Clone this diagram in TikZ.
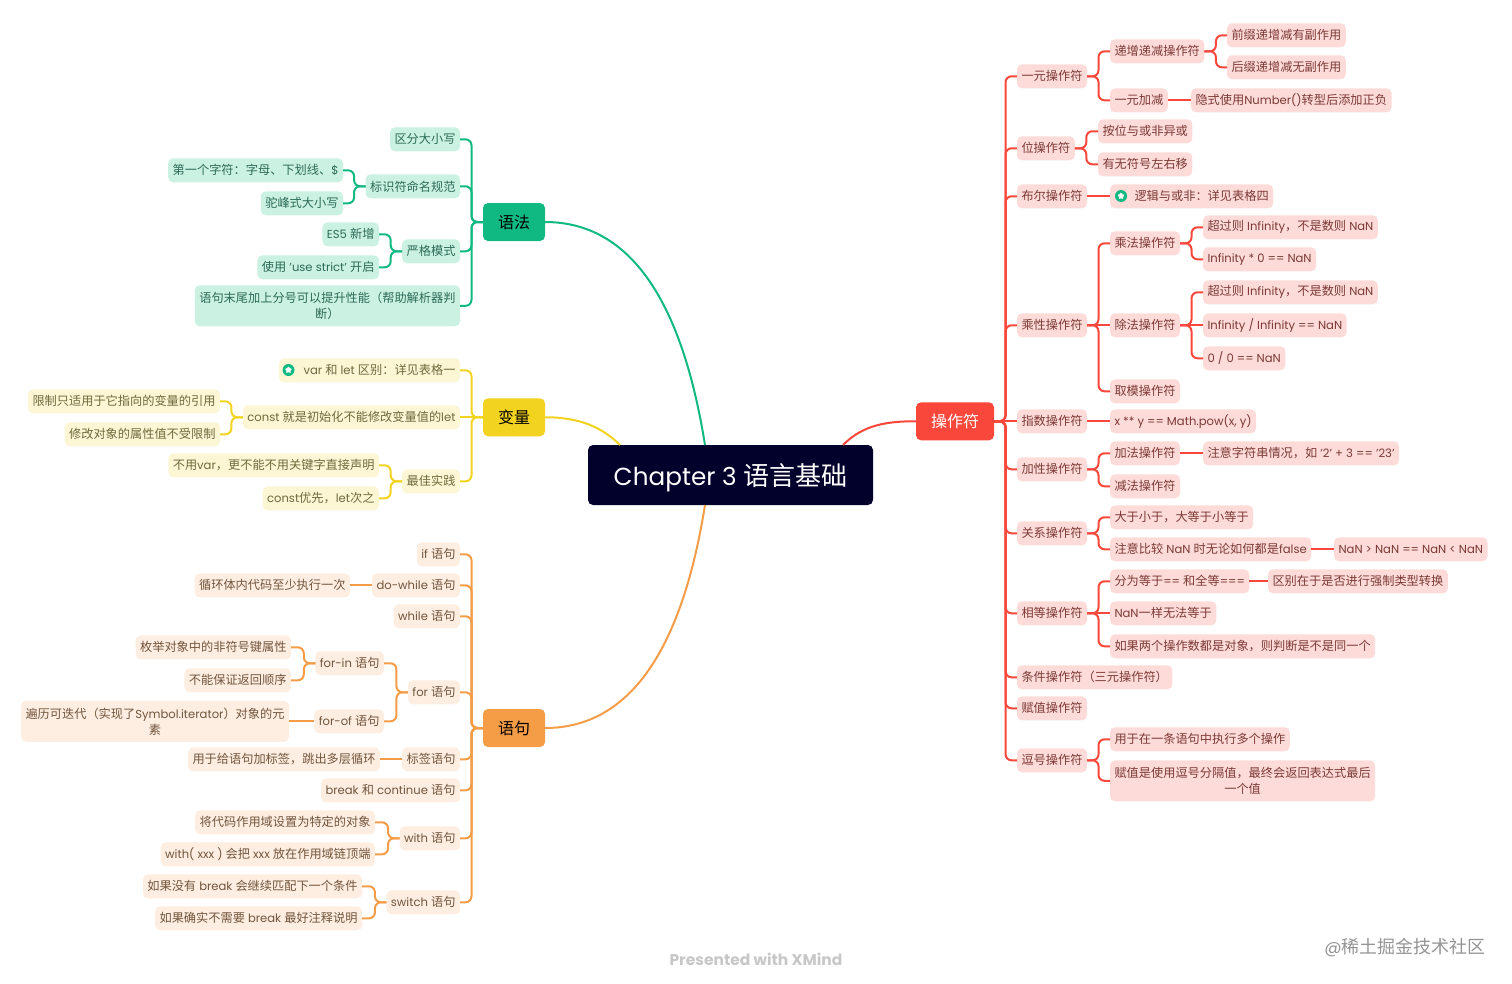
\documentclass[tikz,border=0pt]{standalone}
\usepackage{fontspec}
\usetikzlibrary{shapes.geometric}
\setmainfont[Scale=0.95]{Poppins}
\newfontfamily\cjk{Noto Sans CJK SC}
\newXeTeXintercharclass\cjkclass
\newcount\cjkcode
\cjkcode="3000 \loop \XeTeXcharclass\cjkcode=\cjkclass \advance\cjkcode by 1 \ifnum\cjkcode<"3040 \repeat
\cjkcode="4E00 \loop \XeTeXcharclass\cjkcode=\cjkclass \advance\cjkcode by 1 \ifnum\cjkcode<"A000 \repeat
\cjkcode="FF00 \loop \XeTeXcharclass\cjkcode=\cjkclass \advance\cjkcode by 1 \ifnum\cjkcode<"FFF0 \repeat
\XeTeXinterchartoks 0 \cjkclass={\begingroup\cjk}
\XeTeXinterchartoks 4095 \cjkclass={\begingroup\cjk}
\XeTeXinterchartoks \cjkclass 0={\endgroup}
\XeTeXinterchartoks \cjkclass 4095={\endgroup}
\XeTeXinterchartokenstate=1
\definecolor{rootblue}{HTML}{02012B}
\definecolor{opred}{HTML}{F9473B}
\definecolor{opfill}{HTML}{FDDBD9}
\definecolor{optext}{HTML}{7C3A36}
\definecolor{syngreen}{HTML}{10B981}
\definecolor{synfill}{HTML}{CBF1E3}
\definecolor{syntext}{HTML}{2C6B57}
\definecolor{varyellow}{HTML}{F2D31F}
\definecolor{varfill}{HTML}{FCF6D5}
\definecolor{vartext}{HTML}{6E6A3C}
\definecolor{stmorange}{HTML}{F59C47}
\definecolor{stmfill}{HTML}{FDEEE1}
\definecolor{stmtext}{HTML}{72553D}
\tikzset{
  box/.style={rounded corners=5pt, inner xsep=4.5pt, inner ysep=0pt, minimum height=24pt, outer sep=0pt,
    align=center, yshift=-0.3pt, font=\fontsize{12.2}{16}\selectfont},
  topic/.style={rounded corners=5pt, minimum width=62pt, minimum height=38pt, outer sep=0pt,
    font=\fontsize{16}{18}\selectfont},
  opbox/.style={box, fill=opfill, text=optext, anchor=west},
  synbox/.style={box, fill=synfill, text=syntext, anchor=east},
  varbox/.style={box, fill=varfill, text=vartext, anchor=east},
  stmbox/.style={box, fill=stmfill, text=stmtext, anchor=east},
  rlink/.style={line width=2pt, rounded corners=6pt, to path={-- ++(11.5,0) |- (\tikztotarget)}},
  llink/.style={line width=2pt, rounded corners=6pt, to path={-- ++(-11.5,0) |- (\tikztotarget)}},
  oplink/.style={rlink, draw=opred},
  synlink/.style={llink, draw=syngreen},
  varlink/.style={llink, draw=varyellow},
  stmlink/.style={llink, draw=stmorange},
  opline/.style={line width=2pt, draw=opred},
  varline/.style={line width=2pt, draw=varyellow},
  stmline/.style={line width=2pt, draw=stmorange},
  staricon/.style={circle, fill=syngreen, minimum size=12pt, inner sep=0pt},
  starmark/.style={star, star points=5, fill=white, minimum size=7pt, inner sep=0pt}
}
\begin{document}
\begin{tikzpicture}[x=1pt, y=-1pt]
\useasboundingbox (0,0) rectangle (1512,983);

\node[fill=rootblue, text=white, rounded corners=5pt, minimum width=285pt, minimum height=60pt, outer sep=0pt, text height=24pt, text depth=4pt, font=\fontsize{26}{30}\selectfont] (root) at (730.5,475) {Chapter 3 语言基础};
\node[topic, fill=opred, text=white, minimum width=78pt] (op) at (955,421.3) {操作符};
\node[topic, fill=syngreen, text=black] (syn) at (514,222) {语法};
\node[topic, fill=varyellow, text=black] (var) at (514,417.3) {变量};
\node[topic, fill=stmorange, text=black] (stm) at (514,728) {语句};

\draw[line width=2pt, opred] (op.west) .. controls (880,421) and (860,428) .. ([xshift=112.5pt]root.north);
\draw[line width=2pt, syngreen] (syn.east) .. controls (640,222) and (685,320) .. ([xshift=-25.5pt]root.north);
\draw[line width=2pt, varyellow] (var.east) .. controls (580,417) and (603,428) .. ([xshift=-110.5pt]root.north);
\draw[line width=2pt, stmorange] (stm.east) .. controls (640,728) and (685,630) .. ([xshift=-25.5pt]root.south);

\node[opbox] (unary) at (1017,76) {一元操作符};
\node[opbox] (bitop) at (1017,148) {位操作符};
\node[opbox] (boolop) at (1017,196) {布尔操作符};
\node[opbox] (mulop) at (1017,325) {乘性操作符};
\node[opbox] (expop) at (1017,421) {指数操作符};
\node[opbox] (addop) at (1017,469) {加性操作符};
\node[opbox] (relop) at (1017,533) {关系操作符};
\node[opbox] (eqop) at (1017,613) {相等操作符};
\node[opbox] (condop) at (1017,677) {条件操作符（三元操作符）};
\node[opbox] (assignop) at (1017,708) {赋值操作符};
\node[opbox] (commaop) at (1017,760) {逗号操作符};
\node[opbox] (incdec) at (1110,51) {递增递减操作符};
\node[opbox] (unaryadd) at (1110,100) {一元加减};
\node[opbox] (prefix) at (1227,35) {前缀递增减有副作用};
\node[opbox] (postfix) at (1227,67) {后缀递增减无副作用};
\node[opbox] (tonumber) at (1191,100) {隐式使用Number()转型后添加正负};
\node[opbox] (bitand) at (1098,131) {按位与或非异或};
\node[opbox] (shift) at (1098,164) {有无符号左右移};
\node[opbox] (logic) at (1110,196) {\hspace{20pt}逻辑与或非：详见表格四};
\node[staricon] (logicicon) at (1121,196) {};
\node[starmark] (logicstar) at (logicicon) {};
\node[opbox] (mul) at (1110,243) {乘法操作符};
\node[opbox] (div) at (1110,325) {除法操作符};
\node[opbox] (mod) at (1110,391) {取模操作符};
\node[opbox] (mulover) at (1203,227) {超过则 Infinity，不是数则 NaN};
\node[opbox] (mulzero) at (1203,259) {Infinity * 0 == NaN};
\node[opbox] (divover) at (1203,292) {超过则 Infinity，不是数则 NaN};
\node[opbox] (divinf) at (1203,325) {Infinity / Infinity == NaN};
\node[opbox] (divzero) at (1203,358) {0 / 0 == NaN};
\node[opbox] (pow) at (1110,421) {x ** y == Math.pow(x, y)};
\node[opbox] (plus) at (1110,453) {加法操作符};
\node[opbox] (minus) at (1110,486) {减法操作符};
\node[opbox] (strplus) at (1203,453) {注意字符串情况，如 '2' + 3 == '23'};
\node[opbox] (cmp) at (1110,517) {大于小于，大等于小等于};
\node[opbox] (cmpnan) at (1110,549) {注意比较 NaN 时无论如何都是false};
\node[opbox] (nanres) at (1334,549) {NaN > NaN == NaN < NaN};
\node[opbox] (eqkind) at (1110,581) {分为等于== 和全等===};
\node[opbox] (eqdiff) at (1268,581) {区别在于是否进行强制类型转换};
\node[opbox] (eqnan) at (1110,613) {NaN一样无法等于};
\node[opbox] (eqobj) at (1110,646) {如果两个操作数都是对象，则判断是不是同一个};
\node[opbox] (commause) at (1110,739) {用于在一条语句中执行多个操作};
\node[opbox, minimum height=41pt] (commaval) at (1110,780.5) {赋值是使用逗号分隔值，最终会返回表达式最后\\一个值};

\draw[oplink] (op.east) to (unary.west);
\draw[oplink] (op.east) to (bitop.west);
\draw[oplink] (op.east) to (boolop.west);
\draw[oplink] (op.east) to (mulop.west);
\draw[opline] (op.east) -- (expop.west);
\draw[oplink] (op.east) to (addop.west);
\draw[oplink] (op.east) to (relop.west);
\draw[oplink] (op.east) to (eqop.west);
\draw[oplink] (op.east) to (condop.west);
\draw[oplink] (op.east) to (assignop.west);
\draw[oplink] (op.east) to (commaop.west);
\draw[oplink] (unary.east) to (incdec.west);
\draw[oplink] (unary.east) to (unaryadd.west);
\draw[oplink] (incdec.east) to (prefix.west);
\draw[oplink] (incdec.east) to (postfix.west);
\draw[opline] (unaryadd.east) -- (tonumber.west);
\draw[oplink] (bitop.east) to (bitand.west);
\draw[oplink] (bitop.east) to (shift.west);
\draw[opline] (boolop.east) -- (logic.west);
\draw[oplink] (mulop.east) to (mul.west);
\draw[opline] (mulop.east) -- (div.west);
\draw[oplink] (mulop.east) to (mod.west);
\draw[oplink] (mul.east) to (mulover.west);
\draw[oplink] (mul.east) to (mulzero.west);
\draw[oplink] (div.east) to (divover.west);
\draw[opline] (div.east) -- (divinf.west);
\draw[oplink] (div.east) to (divzero.west);
\draw[opline] (expop.east) -- (pow.west);
\draw[oplink] (addop.east) to (plus.west);
\draw[oplink] (addop.east) to (minus.west);
\draw[opline] (plus.east) -- (strplus.west);
\draw[oplink] (relop.east) to (cmp.west);
\draw[oplink] (relop.east) to (cmpnan.west);
\draw[opline] (cmpnan.east) -- (nanres.west);
\draw[oplink] (eqop.east) to (eqkind.west);
\draw[opline] (eqop.east) -- (eqnan.west);
\draw[oplink] (eqop.east) to (eqobj.west);
\draw[opline] (eqkind.east) -- (eqdiff.west);
\draw[oplink] (commaop.east) to (commause.west);
\draw[oplink] (commaop.east) to (commaval.west);

\node[synbox] (casecase) at (460,139) {区分大小写};
\node[synbox] (ident) at (460,186) {标识符命名规范};
\node[synbox] (strict) at (460,251) {严格模式};
\node[synbox, minimum height=41pt] (semi) at (460,305.5) {语句末尾加上分号可以提升性能（帮助解析器判\\断）};
\node[synbox] (firstch) at (343,170) {第一个字符：字母、下划线、\$};
\node[synbox] (camel) at (343,203) {驼峰式大小写};
\node[synbox] (esfive) at (379,234) {ES5 新增};
\node[synbox] (usestrict) at (379,267) {使用 'use strict' 开启};

\draw[synlink] (syn.west) to (casecase.east);
\draw[synlink] (syn.west) to (ident.east);
\draw[synlink] (syn.west) to (strict.east);
\draw[synlink] (syn.west) to (semi.east);
\draw[synlink] (ident.west) to (firstch.east);
\draw[synlink] (ident.west) to (camel.east);
\draw[synlink] (strict.west) to (esfive.east);
\draw[synlink] (strict.west) to (usestrict.east);

\node[varbox] (varlet) at (460,370) {\hspace{20pt}var 和 let 区别：详见表格一};
\node[staricon] (varleticon) at (288.5,370) {};
\node[starmark] (varletstar) at (varleticon) {};
\node[varbox] (constlet) at (460,417) {const 就是初始化不能修改变量值的let};
\node[varbox] (best) at (460,481) {最佳实践};
\node[varbox] (constref) at (220,401) {限制只适用于它指向的变量的引用};
\node[varbox] (constprop) at (220,434) {修改对象的属性值不受限制};
\node[varbox] (novar) at (379,465) {不用var，更不能不用关键字直接声明};
\node[varbox] (constfirst) at (379,498) {const优先，let次之};

\draw[varlink] (var.west) to (varlet.east);
\draw[varline] (var.west) -- (constlet.east);
\draw[varlink] (var.west) to (best.east);
\draw[varlink] (constlet.west) to (constref.east);
\draw[varlink] (constlet.west) to (constprop.east);
\draw[varlink] (best.west) to (novar.east);
\draw[varlink] (best.west) to (constfirst.east);

\node[stmbox] (ifst) at (460,554) {if 语句};
\node[stmbox] (dowhile) at (460,585) {do-while 语句};
\node[stmbox] (whilest) at (460,616) {while 语句};
\node[stmbox] (forst) at (460,692) {for 语句};
\node[stmbox] (labelst) at (460,759) {标签语句};
\node[stmbox] (breakst) at (460,790) {break 和 continue 语句};
\node[stmbox] (withst) at (460,838) {with 语句};
\node[stmbox] (switchst) at (460,902) {switch 语句};
\node[stmbox] (atleast) at (350,585) {循环体内代码至少执行一次};
\node[stmbox] (forin) at (384,663) {for-in 语句};
\node[stmbox] (forof) at (384,721) {for-of 语句};
\node[stmbox] (nosym) at (291,647) {枚举对象中的非符号键属性};
\node[stmbox] (noorder) at (291,680) {不能保证返回顺序};
\node[stmbox, minimum height=41pt] (iterable) at (289,721) {遍历可迭代（实现了Symbol.iterator）对象的元\\素};
\node[stmbox] (labeluse) at (380,759) {用于给语句加标签，跳出多层循环};
\node[stmbox] (withscope) at (375,822) {将代码作用域设置为特定的对象};
\node[stmbox] (withchain) at (375,854) {with( xxx ) 会把 xxx 放在作用域链顶端};
\node[stmbox] (nobreak) at (362,886) {如果没有 break 会继续匹配下一个条件};
\node[stmbox] (needbreak) at (362,918) {如果确实不需要 break 最好注释说明};

\draw[stmlink] (stm.west) to (ifst.east);
\draw[stmlink] (stm.west) to (dowhile.east);
\draw[stmlink] (stm.west) to (whilest.east);
\draw[stmlink] (stm.west) to (forst.east);
\draw[stmlink] (stm.west) to (labelst.east);
\draw[stmlink] (stm.west) to (breakst.east);
\draw[stmlink] (stm.west) to (withst.east);
\draw[stmlink] (stm.west) to (switchst.east);
\draw[stmline] (dowhile.west) -- (atleast.east);
\draw[stmlink] (forst.west) to (forin.east);
\draw[stmlink] (forst.west) to (forof.east);
\draw[stmlink] (forin.west) to (nosym.east);
\draw[stmlink] (forin.west) to (noorder.east);
\draw[stmline] (forof.west) -- (iterable.east);
\draw[stmline] (labelst.west) -- (labeluse.east);
\draw[stmlink] (withst.west) to (withscope.east);
\draw[stmlink] (withst.west) to (withchain.east);
\draw[stmlink] (switchst.west) to (nobreak.east);
\draw[stmlink] (switchst.west) to (needbreak.east);

\node[text=black!22, font=\fontsize{16.3}{18}\selectfont\bfseries] (brand) at (756,959) {Presented with XMind};
\node[text=black!42, anchor=east, font=\fontsize{18}{20}\selectfont] (mark) at (1489,947.5) {@稀土掘金技术社区};
\end{tikzpicture}
\end{document}
